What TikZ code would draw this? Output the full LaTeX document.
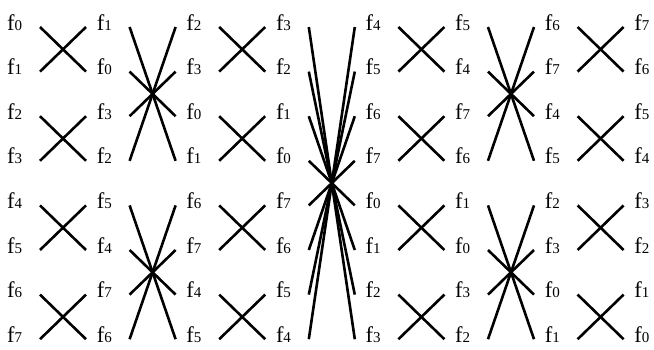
\documentclass[tikz,border=0pt]{standalone}
\usepackage{fontspec}
\setmainfont{Liberation Serif}
\newcommand\flab[1]{f{\fontsize{15}{15}\selectfont #1}}
\begin{document}
\begin{tikzpicture}[x=1pt,y=-1pt,
  wire/.style={line width=2.6pt},
  lab/.style={anchor=base west, inner sep=0pt, font=\fontsize{22.5}{22.5}\selectfont}]
\useasboundingbox (0,0) rectangle (654,349);
% line end points
\foreach \k in {0,...,6}{
  \foreach \i in {0,...,7}{
    \coordinate (L-\k-\i) at (40+89.6*\k, 27+44.6*\i);
    \coordinate (R-\k-\i) at (86+89.6*\k, 27+44.6*\i);
  }
}
% labels
\foreach \k/\lst in {0/{0,1,2,3,4,5,6,7},1/{1,0,3,2,5,4,7,6},2/{2,3,0,1,6,7,4,5},3/{3,2,1,0,7,6,5,4},
                     4/{4,5,6,7,0,1,2,3},5/{5,4,7,6,1,0,3,2},6/{6,7,4,5,2,3,0,1},7/{7,6,5,4,3,2,1,0}}{
  \foreach \v [count=\r from 0] in \lst {
    \node[lab] (t-\k-\r) at (7+89.6*\k, 30+44.6*\r) {\flab{\v}};
  }
}
% connectors
\foreach \k/\g in {0/2,1/4,2/2,3/8,4/2,5/4,6/2}{
  \foreach \i in {0,...,7}{
    \pgfmathtruncatemacro\grp{int(\i/\g)*\g}
    \pgfmathtruncatemacro\j{2*\grp+\g-1-\i}
    \draw[wire] (L-\k-\i) -- (R-\k-\j);
  }
}
\end{tikzpicture}
\end{document}
